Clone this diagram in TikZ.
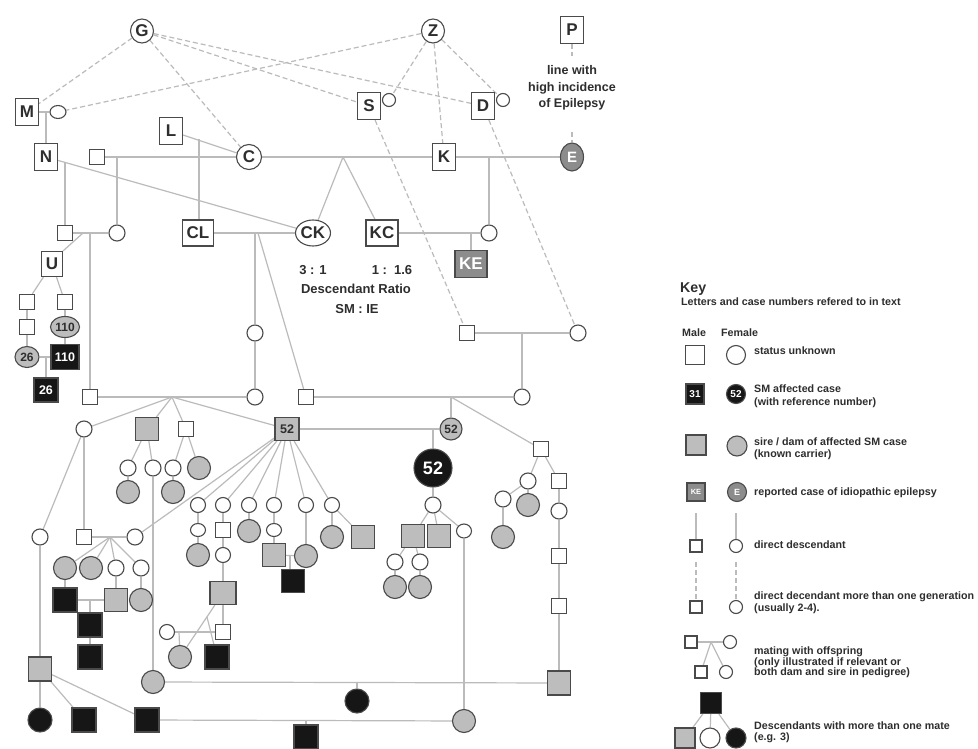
\documentclass[tikz,border=0pt]{standalone}
\usepackage{fontspec}
\setmainfont{Liberation Sans}
\usetikzlibrary{shapes.geometric}
\definecolor{outl}{HTML}{4A4A4A}
\definecolor{linec}{HTML}{BBBBBB}
\definecolor{grayf}{HTML}{BDBDBD}
\definecolor{blackf}{HTML}{161616}
\definecolor{epif}{HTML}{8C8C8C}
\definecolor{txtc}{HTML}{2E2E2E}
\newcommand\pfont[1]{\fontsize{#1}{#1}\selectfont\bfseries}
\pgfdeclarelayer{back}
\pgfdeclarelayer{wires}
\pgfsetlayers{back,wires,main}
\tikzset{
  nd/.style={draw=outl, line width=1.1pt, inner sep=0pt, text=txtc},
  us/.style={nd, rectangle, fill=white, minimum width=15pt, minimum height=15pt},
  uc/.style={nd, ellipse, fill=white, minimum width=16pt, minimum height=16pt},
  gs/.style={nd, rectangle, fill=grayf, minimum width=23pt, minimum height=23pt},
  gc/.style={nd, ellipse, fill=grayf, minimum width=23pt, minimum height=23pt},
  bs/.style={nd, rectangle, fill=blackf, minimum width=24pt, minimum height=24pt, text=white},
  bc/.style={nd, ellipse, fill=blackf, minimum width=24pt, minimum height=24pt, text=white},
  ls/.style={nd, rectangle, fill=white, minimum width=23pt, minimum height=27pt, font=\pfont{17}},
  lc/.style={nd, ellipse, fill=white, minimum width=23pt, minimum height=24pt, font=\pfont{17}},
  es/.style={nd, rectangle, fill=epif, text=white, minimum width=32pt, minimum height=27pt, font=\pfont{17}},
  ec/.style={nd, ellipse, fill=epif, text=white, minimum width=23pt, minimum height=28pt, font=\pfont{15}},
  ln/.style={draw=linec, line width=1.2pt},
  dl/.style={ln, dash pattern=on 5pt off 3pt},
  note/.style={text=txtc, inner sep=0pt, font=\fontsize{13}{16.5}\selectfont\bfseries},
  keytxt/.style={text=txtc, inner sep=0pt, anchor=west, font=\pfont{10.7}},
}
\begin{document}
\begin{tikzpicture}[x=1pt,y=-1pt]
\useasboundingbox (0,0) rectangle (978,749);
\begin{pgfonlayer}{back}
  \fill[white] (0,0) rectangle (978,749);
\end{pgfonlayer}

% ---------- founders ----------
\node[lc] (G) at (142,31) {G};
\node[lc] (Z) at (433,31) {Z};
\node[ls] (P) at (572,30) {P};
\node[note, align=center, font=\fontsize{12.5}{16.5}\selectfont\bfseries] (Ptxt) at (572,88) {line with\\high incidence\\of Epilepsy};
\node[ls] (M) at (27,112) {M};
\node[uc, minimum width=16pt, minimum height=13pt] (Mm) at (58,112) {};
\node[ls] (S) at (369,106) {S};
\node[uc, minimum width=13pt, minimum height=13pt] (Sm) at (389,100) {};
\node[ls] (D) at (483,106) {D};
\node[uc, minimum width=13pt, minimum height=13pt] (Dm) at (503,100) {};
\node[ls] (L) at (171,131) {L};
\node[lc, minimum width=25pt, minimum height=25pt] (C) at (249,157) {C};
\node[ls] (N) at (46,157) {N};
\node[us] (s1) at (97,157) {};
\node[ls] (K) at (444,157) {K};
\node[ec] (E) at (572,157) {E};

% ---------- second generation ----------
\node[us] (a1) at (65,233) {};
\node[uc] (a2) at (117,233) {};
\node[ls, minimum width=31pt, minimum height=26pt] (CL) at (198,233) {CL};
\node[lc, minimum width=35pt, minimum height=26pt] (CK) at (313,233) {CK};
\node[ls, minimum width=32pt, minimum height=26pt] (KC) at (382,233) {KC};
\node[uc] (a3) at (489,233) {};
\node[es] (KE) at (471,264) {KE};

% descendant ratio note
\node[note] (r31) at (313,270) {3 : 1};
\node[note] (r16) at (392,270) {1 :\ \ 1.6};
\node[note] (rdr) at (356,289) {Descendant Ratio};
\node[note] (rsm) at (357,309) {SM : IE};

% ---------- U line ----------
\node[ls, minimum width=21pt, minimum height=25pt] (U) at (52,264) {U};
\node[us] (u1) at (27,302) {};
\node[us] (u2) at (65,302) {};
\node[us] (u3) at (27,327) {};
\node[gc, minimum width=29pt, minimum height=21pt, font=\pfont{12}] (c110) at (65,327) {110};
\node[gc, minimum width=24pt, minimum height=21pt, font=\pfont{12}] (c26) at (27,357) {26};
\node[bs, minimum width=28pt, minimum height=25pt, font=\pfont{12.5}] (b110) at (65,357) {110};
\node[bs, font=\pfont{12.5}] (b26) at (46,390) {26};

% ---------- rows 333 / 397 ----------
\node[uc] (a4) at (255,333) {};
\node[us] (a5) at (467,333) {};
\node[uc] (a6) at (578,333) {};
\node[us] (r1) at (90,397) {};
\node[uc] (r2) at (255,397) {};
\node[us] (r3) at (306,397) {};
\node[uc] (r4) at (522,397) {};

% ---------- row 429 ----------
\node[uc] (g1) at (84,429) {};
\node[gs] (g2) at (147,429) {};
\node[us] (g3) at (186,429) {};
\node[gs, minimum width=24pt, font=\pfont{12.5}] (g4) at (287,429) {52};
\node[gc, minimum width=22pt, minimum height=22pt, font=\pfont{12}] (g5) at (451,429) {52};
\node[us] (g6) at (541,449) {};
\node[bc, minimum width=38pt, minimum height=38pt, font=\pfont{18}] (B52) at (433,468) {52};

% ---------- left branch ----------
\node[uc] (h1) at (128,468) {};
\node[uc] (h2) at (153,468) {};
\node[uc] (h3) at (173,468) {};
\node[gc] (h4) at (199,468) {};
\node[gc] (h5) at (128,492) {};
\node[gc] (h6) at (173,492) {};
\node[uc] (l1) at (40,537) {};
\node[us] (l2) at (84,537) {};
\node[uc] (l3) at (135,537) {};
\node[gc] (p1) at (65,568) {};
\node[gc] (p2) at (91,568) {};
\node[uc] (p3) at (116,568) {};
\node[uc] (p4) at (141,568) {};
\node[bs] (q1) at (65,600) {};
\node[gs] (q2) at (116,600) {};
\node[gc] (q3) at (141,600) {};
\node[bs] (q4) at (90,625) {};
\node[bs] (q5) at (90,657) {};
\node[gs, minimum height=24pt] (t1) at (40,669) {};
\node[gc] (t2) at (153,682) {};
\node[bc] (t3) at (357,701) {};
\node[bc] (v1) at (40,720) {};
\node[bs] (v2) at (84,720) {};
\node[bs] (v3) at (147,720) {};
\node[gc] (v4) at (464,721) {};
\node[bs] (v5) at (306,737) {};

% ---------- offspring of 52 ----------
\node[uc, minimum width=15pt, minimum height=15pt] (c1) at (198,505) {};
\node[uc, minimum width=15pt, minimum height=15pt] (c2) at (223,505) {};
\node[uc, minimum width=15pt, minimum height=15pt] (c3) at (249,505) {};
\node[uc, minimum width=15pt, minimum height=15pt] (c4) at (274,505) {};
\node[uc, minimum width=15pt, minimum height=15pt] (c5) at (306,505) {};
\node[uc, minimum width=15pt, minimum height=15pt] (c6) at (332,505) {};
\node[uc, minimum width=15pt, minimum height=13pt] (d1) at (198,530) {};
\node[us] (d2) at (223,530) {};
\node[gc] (d3) at (249,531) {};
\node[uc, minimum width=15pt, minimum height=13pt] (d4) at (274,530) {};
\node[gc] (d6) at (332,537) {};
\node[gs] (d7) at (363,537) {};
\node[gc] (e1) at (198,555) {};
\node[uc, minimum width=15pt, minimum height=15pt] (e2) at (223,555) {};
\node[gs] (e3) at (274,555) {};
\node[gc] (e5) at (306,556) {};
\node[bs, minimum width=23pt, minimum height=23pt] (e6) at (293,581) {};
\node[gs, minimum width=26pt, minimum height=23pt] (f1) at (223,593) {};
\node[uc, minimum width=15pt, minimum height=15pt] (f2) at (167,632) {};
\node[us] (f3) at (223,632) {};
\node[gc] (f4) at (180,657) {};
\node[bs] (f5) at (217,657) {};

% ---------- offspring of black 52 ----------
\node[uc] (m1) at (433,505) {};
\node[gs] (m2) at (413,536) {};
\node[gs] (m3) at (439,536) {};
\node[uc, minimum width=15pt, minimum height=14pt] (m4) at (464,531) {};
\node[uc] (n1) at (395,562) {};
\node[uc] (n2) at (420,562) {};
\node[gc] (n3) at (395,587) {};
\node[gc] (n4) at (420,587) {};

% ---------- right branch ----------
\node[uc] (k1) at (528,481) {};
\node[us] (k2) at (559,481) {};
\node[uc] (k3) at (503,499) {};
\node[gc] (k4) at (528,505) {};
\node[uc] (k5) at (559,511) {};
\node[gc] (k6) at (503,537) {};
\node[us] (k7) at (559,556) {};
\node[us] (k8) at (559,606) {};
\node[gs, minimum height=24pt] (k9) at (559,683) {};

% ---------- key ----------
\node[text=txtc, inner sep=0pt, anchor=west, font=\pfont{14.2}] (kt0) at (680,289) {Key};
\node[keytxt] (kt1) at (681,302) {Letters and case numbers refered to in text};
\node[keytxt] (kmale) at (682,333) {Male};
\node[keytxt] (kfem) at (721,333) {Female};
\node[us, minimum width=19pt, minimum height=19pt] (ks1) at (695,355) {};
\node[uc, minimum width=19pt, minimum height=19pt] (kc1) at (736,355) {};
\node[keytxt] at (754,351) {status unknown};
\node[bs, minimum width=18pt, minimum height=20pt, font=\pfont{10}] (ks2) at (695,394) {31};
\node[bc, minimum width=19pt, minimum height=19pt, font=\pfont{10}] (kc2) at (736,394) {52};
\node[keytxt] at (754,389) {SM affected case};
\node[keytxt] at (754,403) {(with reference number)};
\node[gs, minimum width=20pt, minimum height=20pt] (ks3) at (696,445) {};
\node[gc, minimum width=20pt, minimum height=20pt] (kc3) at (737,446) {};
\node[keytxt] at (754,442) {sire / dam of affected SM case};
\node[keytxt] at (754,455) {(known carrier)};
\node[es, minimum width=18pt, minimum height=18pt, font=\pfont{7.5}] (ks4) at (696,492) {KE};
\node[ec, minimum width=19pt, minimum height=19pt, font=\pfont{9}] (kc4) at (737,492) {E};
\node[keytxt] at (754,493) {reported case of idiopathic epilepsy};
\node[us, minimum width=12pt, minimum height=12pt] (ks5) at (696,546) {};
\node[uc, minimum width=13pt, minimum height=13pt] (kc5) at (736,546) {};
\node[keytxt] at (754,545) {direct descendant};
\node[us, minimum width=12pt, minimum height=12pt] (ks6) at (696,607) {};
\node[uc, minimum width=13pt, minimum height=13pt] (kc6) at (736,607) {};
\node[keytxt] at (754,597) {direct decendant more than one generation};
\node[keytxt] at (754,609) {(usually 2-4).};
\node[us, minimum width=12pt, minimum height=12pt] (ks7) at (691,642) {};
\node[uc, minimum width=13pt, minimum height=13pt] (kc7) at (730,642) {};
\node[us, minimum width=12pt, minimum height=12pt] (ks8) at (701,672) {};
\node[uc, minimum width=13pt, minimum height=13pt] (kc8) at (726,672) {};
\node[keytxt] at (754,652) {mating with offspring};
\node[keytxt] at (754,662.5) {(only illustrated if relevant or};
\node[keytxt] at (754,673) {both dam and sire in pedigree)};
\node[bs, minimum width=21pt, minimum height=21pt] (kb) at (711,703) {};
\node[gs, minimum width=20pt, minimum height=20pt] (kg) at (685,738) {};
\node[uc, minimum width=20pt, minimum height=20pt] (kw) at (710,738) {};
\node[bc, minimum width=20pt, minimum height=20pt] (kbc) at (736,738) {};
\node[keytxt] at (754,726) {Descendants with more than one mate};
\node[keytxt] at (754,738) {(e.g. 3)};

% ---------- connectors ----------
\begin{pgfonlayer}{wires}
  % descent over several generations
  \draw[dl] (G) -- (M);
  \draw[dl] (G) -- (C);
  \draw[dl] (G) -- (S);
  \draw[dl] (G) -- (D);
  \draw[dl] (Z) -- (Mm);
  \draw[dl] (Z) -- (Sm);
  \draw[dl] (Z) -- (K);
  \draw[dl] (Z) -- (Dm);
  \draw[dl] (S) -- (a5);
  \draw[dl] (D) -- (a6);
  \coordinate (pd1) at (572,56);
  \coordinate (pd2) at (572,132);
  \draw[dl] (P) -- (pd1);
  \draw[dl] (pd2) -- (E);

  % first matings
  \draw[ln] (M) -- (Mm);
  \coordinate (mn) at (46,112);
  \draw[ln] (mn) -- (N);
  \draw[ln] (L) -- (C);
  \coordinate (lcp) at (199,139.5);
  \draw[ln] (lcp) -- (lcp |- CL.north);
  \draw[ln] (s1) -- (C);
  \draw[ln] (C) -- (K);
  \draw[ln] (K) -- (E);
  \coordinate (sc) at (117,157);
  \draw[ln] (sc) -- (a2);
  \draw[ln] (N) -- (CK);
  \coordinate (nk) at (65,162.4);
  \draw[ln] (nk) -- (a1);
  \coordinate (ckp) at (343,157);
  \draw[ln] (ckp) -- (CK);
  \draw[ln] (ckp) -- (KC);
  \coordinate (kep) at (489,157);
  \draw[ln] (kep) -- (a3);
  \draw[ln] (KC) -- (a3);
  \coordinate (kce) at (471,233);
  \draw[ln] (kce) -- (KE);

  % U line
  \draw[ln] (a1) -- (a2);
  \coordinate (au) at (83,233);
  \draw[ln] (au) -- (U.north east);
  \coordinate (ar) at (90,233);
  \draw[ln] (ar) -- (r1);
  \draw[ln] (U) -- (u1);
  \draw[ln] (U) -- (u2);
  \draw[ln] (u1) -- (u3);
  \draw[ln] (u3) -- (c26);
  \draw[ln] (u2) -- (c110);
  \draw[ln] (c110) -- (b110);
  \draw[ln] (c26) -- (b110);
  \coordinate (cb) at (46,357);
  \draw[ln] (cb) -- (b26);

  % CL x CK
  \draw[ln] (CL) -- (CK);
  \coordinate (cl1) at (255,233);
  \draw[ln] (cl1) -- (a4);
  \draw[ln] (a4) -- (r2);
  \coordinate (cl2) at (258,233);
  \draw[ln] (cl2) -- (r3);
  \draw[ln] (a5) -- (a6);
  \coordinate (aa) at (522,333);
  \draw[ln] (aa) -- (r4);

  % row 397 matings
  \draw[ln] (r1) -- (r2);
  \coordinate (rr) at (172,397);
  \foreach \t in {g1,g2,g3,g4} \draw[ln] (rr) -- (\t);
  \draw[ln] (r3) -- (r4);
  \coordinate (rs) at (451,397);
  \draw[ln] (rs) -- (g5);
  \draw[ln] (rs) -- (g6);

  % 52 x 52
  \draw[ln] (g4) -- (g5);
  \coordinate (gg) at (433,429);
  \draw[ln] (gg) -- (B52);
  \draw[ln] (B52) -- (m1);
  \draw[ln] (m1) -- (m2);
  \draw[ln] (m1) -- (m3);
  \draw[ln] (m1) -- (m4);
  \draw[ln] (m2) -- (n1);
  \draw[ln] (m2) -- (n2);
  \draw[ln] (n1) -- (n3);
  \draw[ln] (n2) -- (n4);
  \draw[ln] (m4) -- (v4);

  % right branch
  \draw[ln] (g6) -- (k1);
  \draw[ln] (g6) -- (k2);
  \draw[ln] (k1) -- (k4);
  \draw[ln] (k3) -- (k1);
  \draw[ln] (k3) -- (k6);
  \draw[ln] (k2) -- (k5);
  \draw[ln] (k5) -- (k7);
  \draw[ln] (k7) -- (k8);
  \draw[ln] (k8) -- (k9);
  \draw[ln] (k9) -- (t2);
  \coordinate (kt) at (357,682);
  \draw[ln] (kt) -- (t3);
  \draw[ln] (v3) -- (v4);
  \coordinate (vv) at (306,721);
  \draw[ln] (vv) -- (v5);

  % left branch
  \draw[ln] (g1) -- (l1);
  \draw[ln] (g1) -- (l2);
  \draw[ln] (g2) -- (h1);
  \draw[ln] (g2) -- (h2);
  \draw[ln] (g3) -- (h3);
  \draw[ln] (g3) -- (h4);
  \draw[ln] (h1) -- (h5);
  \draw[ln] (h3) -- (h6);
  \draw[ln] (h2) -- (t2);
  \draw[ln] (l1) -- (t1);
  \draw[ln] (t1) -- (v1);
  \draw[ln] (t1) -- (v2);
  \draw[ln] (t1) -- (v3);
  \draw[ln] (l2) -- (l3);
  \coordinate (ll) at (110,537);
  \foreach \t in {p1,p2,p3,p4} \draw[ln] (ll) -- (\t);
  \draw[ln] (l3) -- (g4);
  \draw[ln] (p1) -- (q1);
  \draw[ln] (p3) -- (q2);
  \draw[ln] (p4) -- (q3);
  \draw[ln] (q1) -- (q2);
  \coordinate (qq) at (90,600);
  \draw[ln] (qq) -- (q4);
  \draw[ln] (q4) -- (q5);

  % offspring of 52
  \foreach \t in {c1,c2,c3,c4,c5,c6} \draw[ln] (g4) -- (\t);
  \draw[ln] (c1) -- (d1);
  \draw[ln] (d1) -- (e1);
  \draw[ln] (c2) -- (d2);
  \draw[ln] (d2) -- (e2);
  \draw[ln] (e2) -- (f1);
  \draw[ln] (c3) -- (d3);
  \draw[ln] (c4) -- (d4);
  \draw[ln] (d4) -- (e3);
  \draw[ln] (c5) -- (e5);
  \draw[ln] (e3) -- (e5);
  \coordinate (ee) at (290,556);
  \draw[ln] (ee) -- (ee |- e6.north);
  \draw[ln] (c6) -- (d6);
  \draw[ln] (c6) -- (d7);
  \draw[ln] (f1) -- (f3);
  \draw[ln] (f2) -- (f3);
  \coordinate (ff) at (179,632);
  \draw[ln] (ff) -- (f4);
  \draw[ln] (f1) -- (f4);
  \coordinate (fb) at (207,617);
  \draw[ln] (fb) -- (f5);

  % key connectors
  \coordinate (kv1) at (696,513);
  \coordinate (kv2) at (736,513);
  \coordinate (kv3) at (696,562);
  \coordinate (kv4) at (736,562);
  \draw[ln] (kv1) -- (ks5);
  \draw[ln] (kv2) -- (kc5);
  \draw[dl] (kv3) -- (ks6);
  \draw[dl] (kv4) -- (kc6);
  \draw[ln] (ks7) -- (kc7);
  \coordinate (km) at (711,642);
  \draw[ln] (km) -- (ks8);
  \draw[ln] (km) -- (kc8);
  \draw[ln] (kb) -- (kg);
  \draw[ln] (kb) -- (kw);
  \draw[ln] (kb) -- (kbc);
\end{pgfonlayer}
\end{tikzpicture}
\end{document}
